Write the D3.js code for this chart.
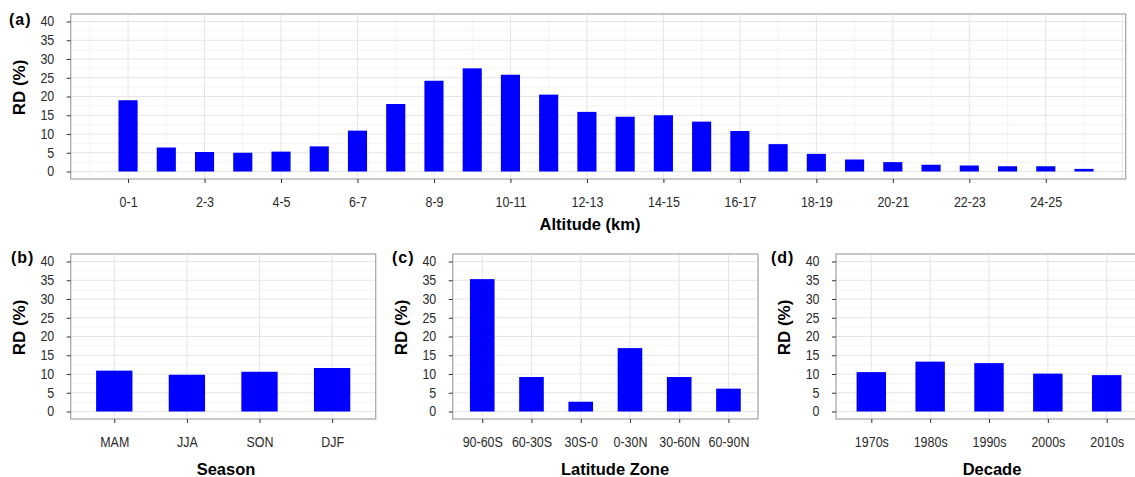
<!DOCTYPE html>
<html>
<head>
<meta charset="utf-8">
<script src="https://cdn.jsdelivr.net/npm/d3@7"></script>
<style>
  body { margin: 0; background: #fff; }
  text { font-family: "Liberation Sans", Arial, Helvetica, sans-serif; }
</style>
</head>
<body>
<svg id="chart" width="1135" height="477"></svg>
<script>
// data
var altitudes   = ["0-1","1-2","2-3","3-4","4-5","5-6","6-7","7-8","8-9","9-10","10-11","11-12","12-13",
                   "13-14","14-15","15-16","16-17","17-18","18-19","19-20","20-21","21-22","22-23","23-24","24-25","25-26"];
var altitudeRD  = [19.0, 6.4, 5.2, 5.0, 5.3, 6.7, 10.9, 18.0, 24.2, 27.5, 25.8, 20.5, 15.9,
                   14.6, 15.0, 13.3, 10.8, 7.3, 4.7, 3.2, 2.5, 1.8, 1.6, 1.4, 1.4, 0.7];
var seasons     = ["MAM", "JJA", "SON", "DJF"];
var seasonRD    = [10.9, 9.8, 10.6, 11.6];
var zones       = ["90-60S", "60-30S", "30S-0", "0-30N", "30-60N", "60-90N"];
var zoneRD      = [35.3, 9.2, 2.6, 16.9, 9.2, 6.1];
var decades     = ["1970s", "1980s", "1990s", "2000s", "2010s"];
var decadeRD    = [10.5, 13.3, 12.9, 10.1, 9.7];
var yTicks      = [0, 5, 10, 15, 20, 25, 30, 35, 40];
var yMinor      = [2.5, 7.5, 12.5, 17.5, 22.5, 27.5, 32.5, 37.5];

var svg = d3.select("#chart");

function drawPanel(p) {
  var g = svg.append("g");

  var x = d3.scaleLinear()
    .domain(p.xDomain)
    .range([p.left, p.right]);

  var y = d3.scaleLinear()
    .domain([-2, 42])
    .range([p.bottom, p.top]);

  var step = x(1) - x(0);

  // minor grid
  g.selectAll(".hmin")
    .data(yMinor)
    .enter().append("line")
      .attr("x1", p.left).attr("x2", p.right)
      .attr("y1", function (d) { return y(d); })
      .attr("y2", function (d) { return y(d); })
      .attr("stroke", "#f3f3f3").attr("stroke-width", 0.8);

  g.selectAll(".vmin")
    .data(p.vMinor)
    .enter().append("line")
      .attr("y1", p.top).attr("y2", p.bottom)
      .attr("x1", function (d) { return x(d); })
      .attr("x2", function (d) { return x(d); })
      .attr("stroke", "#f3f3f3").attr("stroke-width", 0.8);

  // major grid
  g.selectAll(".hmaj")
    .data(yTicks)
    .enter().append("line")
      .attr("x1", p.left).attr("x2", p.right)
      .attr("y1", function (d) { return y(d); })
      .attr("y2", function (d) { return y(d); })
      .attr("stroke", "#e5e5e5").attr("stroke-width", 1);

  g.selectAll(".vmaj")
    .data(p.vMajor)
    .enter().append("line")
      .attr("y1", p.top).attr("y2", p.bottom)
      .attr("x1", function (d) { return x(d); })
      .attr("x2", function (d) { return x(d); })
      .attr("stroke", "#e5e5e5").attr("stroke-width", 1);

  // bars
  g.selectAll("rect.bar")
    .data(p.values)
    .enter().append("rect")
      .attr("class", "bar")
      .attr("fill", "#0000ff")
      .attr("x", function (d, i) { return x(i) - step * 0.25; })
      .attr("width", step * 0.5)
      .attr("y", function (d) { return y(d); })
      .attr("height", function (d) { return y(0) - y(d); });

  // panel border
  g.append("rect")
    .attr("x", p.left).attr("y", p.top)
    .attr("width", p.right - p.left).attr("height", p.bottom - p.top)
    .attr("fill", "none").attr("stroke", "#a9a9a9").attr("stroke-width", 1.3);

  // axes
  var axisLeft = d3.axisLeft(y)
    .tickValues(yTicks)
    .tickSize(4);

  var yAxis = g.append("g")
    .attr("transform", "translate(" + p.left + ",0)")
    .call(axisLeft);

  var axisBottom = d3.axisBottom(x)
    .tickValues(p.xTicks)
    .tickSize(4)
    .tickPadding(14)
    .tickFormat(function (d) { return p.cats[d]; });

  var xAxis = g.append("g")
    .attr("transform", "translate(0," + p.bottom + ")")
    .call(axisBottom);

  [yAxis, xAxis].forEach(function (a) {
    a.select(".domain").remove();
    a.selectAll(".tick line").attr("stroke", "#333");
    a.selectAll(".tick text")
      .attr("fill", "#2b2b2b")
      .attr("transform", "scale(0.89,1)")
      .style("font-size", "14px");
  });
  // text is squeezed horizontally, so push the y labels out to land right
  yAxis.selectAll(".tick text").attr("x", -18.5);

  // titles
  g.append("text")
    .attr("x", p.xTitleX).attr("y", p.xTitleY)
    .attr("text-anchor", "middle")
    .style("font-size", "16.5px").style("font-weight", "bold")
    .text(p.xTitle);

  g.append("text")
    .attr("transform", "translate(" + (p.left - 52) + "," + ((p.top + p.bottom) / 2 - 9) + ") rotate(-90)")
    .attr("text-anchor", "middle")
    .attr("dy", "0.36em")
    .style("font-size", "17px").style("font-weight", "bold")
    .text("RD (%)");

  g.append("text")
    .attr("x", p.labelX).attr("y", p.labelY)
    .style("font-size", "16px").style("font-weight", "bold")
    .style("letter-spacing", "1px")
    .text(p.label);
}

var altMajor = d3.range(0, 27, 2),
    altMinor = d3.range(-1, 26, 2);

drawPanel({
  left: 70.7, right: 1125.7, top: 14, bottom: 179,
  xDomain: [-1.5, 26.09],
  cats: altitudes, values: altitudeRD,
  xTicks: d3.range(0, 25, 2),
  vMajor: altMajor, vMinor: altMinor,
  xTitle: "Altitude (km)", xTitleX: 590, xTitleY: 230,
  label: "(a)", labelX: 9, labelY: 25
});

drawPanel({
  left: 70.7, right: 375.7, top: 254, bottom: 419,
  xDomain: [-0.6, seasons.length - 0.4],
  cats: seasons, values: seasonRD,
  xTicks: d3.range(seasons.length),
  vMajor: d3.range(seasons.length), vMinor: [],
  xTitle: "Season", xTitleX: 226, xTitleY: 475,
  label: "(b)", labelX: 11, labelY: 263
});

drawPanel({
  left: 452.7, right: 758, top: 254, bottom: 419,
  xDomain: [-0.6, zones.length - 0.4],
  cats: zones, values: zoneRD,
  xTicks: d3.range(zones.length),
  vMajor: d3.range(zones.length), vMinor: [],
  xTitle: "Latitude Zone", xTitleX: 615, xTitleY: 475,
  label: "(c)", labelX: 392, labelY: 263
});

drawPanel({
  left: 836, right: 1142, top: 254, bottom: 419,
  xDomain: [-0.6, decades.length - 0.4],
  cats: decades, values: decadeRD,
  xTicks: d3.range(decades.length),
  vMajor: d3.range(decades.length), vMinor: [],
  xTitle: "Decade", xTitleX: 992, xTitleY: 475,
  label: "(d)", labelX: 771, labelY: 263
});
</script>
</body>
</html>
